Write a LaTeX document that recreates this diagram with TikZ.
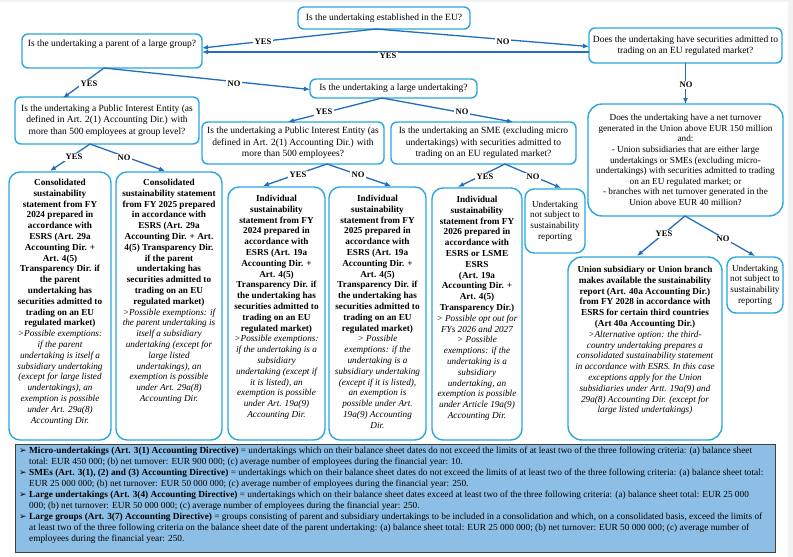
\documentclass[tikz,border=0pt]{standalone}
\usepackage{fontspec}
\setmainfont{Liberation Serif}
\newfontfamily\symfont{DejaVu Sans}
\usetikzlibrary{arrows.meta}
\definecolor{boxc}{RGB}{41,168,224}
\definecolor{arrc}{RGB}{33,110,188}
\definecolor{legf}{RGB}{141,191,230}
\definecolor{legd}{RGB}{64,64,64}
\newcommand\legbul{\makebox[10pt][l]{\symfont\fontsize{9}{10}\selectfont ➢}}
\newcommand\legind{\hspace*{10pt}}
\begin{document}
\begin{tikzpicture}[x=1pt,y=-1pt,
 qbox/.style={draw=boxc, line width=1.4pt, rounded corners=6pt, fill=white, inner sep=0pt, outer sep=0pt},
 rbox/.style={draw=boxc, line width=1.4pt, rounded corners=11pt, fill=white, inner sep=0pt, outer sep=0pt},
 arr/.style={draw=arrc, line width=1.3pt, -{Latex[length=6pt,width=5pt]}},
 ln/.style={draw=arrc, line width=1.3pt},
 lbl/.style={font=\fontsize{8.5}{10}\selectfont\bfseries, fill=white, inner sep=1.5pt},
 qtxt/.style={font=\fontsize{9.5}{11.3}\selectfont, align=center, inner sep=0pt},
 rtxt/.style={font=\fontsize{9.2}{10.8}\selectfont, align=center, inner sep=0pt},
 ntxt/.style={font=\fontsize{9.2}{10.6}\selectfont, align=center, inner sep=0pt},
]
\useasboundingbox (0,0) rectangle (793,557);
\fill[black!5] (0,0) rectangle (793,557);
\fill[white] (0,2) rectangle (788,557);

% ---------- question boxes ----------
\node[qbox, minimum width=172pt, minimum height=22pt] (eu) at (384,18) {};
\node[qtxt] (eut) at (eu.center) {Is the undertaking established in the EU?};

\node[qbox, minimum width=180pt, minimum height=34pt] (parent) at (112,51) {};
\node[qtxt, anchor=north] (parentt) at (112,40) {Is the undertaking a parent of a large group?};

\node[qbox, minimum width=193pt, minimum height=35pt] (sec) at (685.5,45.5) {};
\node[qtxt] (sect) at (sec.center) {Does the undertaking have securities admitted to\\trading on an EU regulated market?};

\node[qbox, minimum width=167pt, minimum height=19pt] (large) at (393.5,88.5) {};
\node[qtxt] (larget) at (large.center) {Is the undertaking a large undertaking?};

\node[qbox, minimum width=184pt, minimum height=47pt] (pieg) at (107,120.5) {};
\node[qtxt] (piegt) at (pieg.center) {Is the undertaking a Public Interest Entity (as\\defined in Art. 2(1) Accounting Dir.) with\\more than 500 employees at group level?};

\node[qbox, minimum width=182pt, minimum height=42pt] (piei) at (293,143) {};
\node[qtxt] (pieit) at (piei.center) {Is the undertaking a Public Interest Entity (as\\defined in Art. 2(1) Accounting Dir.) with\\more than 500 employees?};

\node[qbox, minimum width=185pt, minimum height=42pt] (sme) at (483.5,143) {};
\node[qtxt] (smet) at (sme.center) {Is the undertaking an SME (excluding micro\\undertakings) with securities admitted to\\trading on an EU regulated market?};

\node[rbox, rounded corners=14pt, minimum width=195pt, minimum height=112pt] (turn) at (685.5,160) {};
\node[ntxt] (turnt) at (turn.center) {Does the undertaking have a net turnover\\generated in the Union above EUR 150 million\\and:\\- Union subsidiaries that are either large\\undertakings or SMEs (excluding micro-\\undertakings) with securities admitted to trading\\on an EU regulated market; or\\- branches with net turnover generated in the\\Union above EUR 40 million?};

% ---------- result boxes ----------
\node[rbox, minimum width=102pt, minimum height=268pt] (r1) at (60,306) {};
\node[rtxt, anchor=north] (r1t) at (60,179) {\bfseries Consolidated\\\bfseries sustainability\\\bfseries statement from FY\\\bfseries 2024 prepared in\\\bfseries accordance with\\\bfseries ESRS (Art. 29a\\\bfseries Accounting Dir. +\\\bfseries Art. 4(5)\\\bfseries Transparency Dir. if\\\bfseries the parent\\\bfseries undertaking has\\\bfseries securities admitted to\\\bfseries trading on an EU\\\bfseries regulated market)\\\itshape >Possible exemptions:\\\itshape if the parent\\\itshape undertaking is itself a\\\itshape subsidiary undertaking\\\itshape (except for large listed\\\itshape undertakings), an\\\itshape exemption is possible\\\itshape under Art. 29a(8)\\\itshape Accounting Dir.};

\node[rbox, minimum width=106pt, minimum height=268pt] (r2) at (169,306) {};
\node[rtxt, anchor=north] (r2t) at (169,179) {\bfseries Consolidated\\\bfseries sustainability statement\\\bfseries from FY 2025 prepared\\\bfseries in accordance with\\\bfseries ESRS (Art. 29a\\\bfseries Accounting Dir. + Art.\\\bfseries 4(5) Transparency Dir.\\\bfseries if the parent\\\bfseries undertaking has\\\bfseries securities admitted to\\\bfseries trading on an EU\\\bfseries regulated market)\\\itshape >Possible exemptions: if\\\itshape the parent undertaking is\\\itshape itself a subsidiary\\\itshape undertaking (except for\\\itshape large listed\\\itshape undertakings), an\\\itshape exemption is possible\\\itshape under Art. 29a(8)\\\itshape Accounting Dir.};

\node[rbox, minimum width=97pt, minimum height=253pt] (r3) at (276.5,313.5) {};
\node[rtxt, anchor=north] (r3t) at (276.5,195) {\bfseries Individual\\\bfseries sustainability\\\bfseries statement from FY\\\bfseries 2024 prepared in\\\bfseries accordance with\\\bfseries ESRS (Art. 19a\\\bfseries Accounting Dir. +\\\bfseries Art. 4(5)\\\bfseries Transparency Dir. if\\\bfseries the undertaking has\\\bfseries securities admitted to\\\bfseries trading on an EU\\\bfseries regulated market)\\\itshape >Possible exemptions:\\\itshape if the undertaking is a\\\itshape subsidiary\\\itshape undertaking (except if\\\itshape it is listed), an\\\itshape exemption is possible\\\itshape under Art. 19a(9)\\\itshape Accounting Dir.};

\node[rbox, minimum width=97pt, minimum height=253pt] (r4) at (377.5,313.5) {};
\node[rtxt, anchor=north] (r4t) at (377.5,195) {\bfseries Individual\\\bfseries sustainability\\\bfseries statement from FY\\\bfseries 2025 prepared in\\\bfseries accordance with\\\bfseries ESRS (Art. 19a\\\bfseries Accounting Dir. +\\\bfseries Art. 4(5)\\\bfseries Transparency Dir. if\\\bfseries the undertaking has\\\bfseries securities admitted to\\\bfseries trading on an EU\\\bfseries regulated market)\\\itshape > Possible\\\itshape exemptions: if the\\\itshape undertaking is a\\\itshape subsidiary undertaking\\\itshape (except if it is listed),\\\itshape an exemption is\\\itshape possible under Art.\\\itshape 19a(9) Accounting\\\itshape Dir.};

\node[rbox, minimum width=90pt, minimum height=252pt] (r5) at (477,314) {};
\node[rtxt, anchor=north] (r5t) at (477,196) {\bfseries Individual\\\bfseries sustainability\\\bfseries statement from FY\\\bfseries 2026 prepared in\\\bfseries accordance with\\\bfseries ESRS or LSME\\\bfseries ESRS\\\bfseries (Art. 19a\\\bfseries Accounting Dir. +\\\bfseries Art. 4(5)\\\bfseries Transparency Dir.)\\\itshape > Possible opt out for\\\itshape FYs 2026 and 2027\\\itshape > Possible\\\itshape exemptions: if the\\\itshape undertaking is a\\\itshape subsidiary\\\itshape undertaking, an\\\itshape exemption is possible\\\itshape under Article 19a(9)\\\itshape Accounting Dir.};

\node[qbox, rounded corners=9pt, minimum width=60pt, minimum height=64pt] (n1) at (555,221) {};
\node[ntxt] (n1t) at (n1.center) {Undertaking\\not subject to\\sustainability\\reporting};

\node[rbox, rounded corners=14pt, minimum width=154pt, minimum height=183pt] (un) at (645,348.5) {};
\node[rtxt, anchor=north] (unt) at (645,266) {\bfseries Union subsidiary or Union branch\\\bfseries makes available the sustainability\\\bfseries report (Art. 40a Accounting Dir.)\\\bfseries from FY 2028 in accordance with\\\bfseries ESRS for certain third countries\\\bfseries (Art 40a Accounting Dir.)\\\itshape >Alternative option: the third-\\\itshape country undertaking prepares a\\\itshape consolidated sustainability statement\\\itshape in accordance with ESRS. In this case\\\itshape exceptions apply for the Union\\\itshape subsidiaries under Artt. 19a(9) and\\\itshape 29a(8) Accounting Dir. (except for\\\itshape large listed undertakings)};

\node[qbox, rounded corners=9pt, minimum width=56pt, minimum height=56pt] (n2) at (755,285) {};
\node[ntxt] (n2t) at (n2.center) {Undertaking\\not subject to\\sustainability\\reporting};

% ---------- connectors ----------
\coordinate (eub) at (376,29);
\draw[arr] (eub) -- ([yshift=3pt]parent.east);
\draw[arr] (eub) -- ([yshift=-1pt]sec.west);
\draw[arr] (sec.west |- 0,52) -- (parent.east |- 0,52);
\coordinate (parb) at (104,68);
\draw[arr] (parb) -- (63,98);
\draw[arr] (parb) -- ([yshift=-1pt]large.west);
\coordinate (larb) at (382,98);
\draw[arr] (larb) -- (288,122);
\draw[arr] (larb) -- (513,122);
\coordinate (piegb) at (90,144);
\draw[arr] (piegb) -- (50,171);
\draw[arr] (piegb) -- (165,171);
\coordinate (pieib) at (327,164);
\draw[arr] (pieib) -- (263,186);
\draw[arr] (pieib) -- (391,186);
\coordinate (smeb) at (505,164);
\draw[arr] (smeb) -- (458,187);
\draw[arr] (smeb) -- (561,188);
\draw[arr] (sec.south) -- (turn.north);
\coordinate (turnb) at (685,216);
\draw[arr] (turnb) -- (637,256);
\draw[arr] (turnb) -- (755,256);

% ---------- labels ----------
\node[lbl] (l1) at (263,42) {YES};
\node[lbl] (l2) at (503,42) {NO};
\node[lbl] (l3) at (388,56) {YES};
\node[lbl] (l4) at (89,84) {YES};
\node[lbl] (l5) at (234,84) {NO};
\node[lbl] (l6) at (324,112) {YES};
\node[lbl] (l7) at (462,112) {NO};
\node[lbl] (l8) at (74,157) {YES};
\node[lbl] (l9) at (124,158) {NO};
\node[lbl] (l10) at (298,175) {YES};
\node[lbl] (l11) at (358,175) {NO};
\node[lbl] (l12) at (485,177) {YES};
\node[lbl] (l13) at (533,177) {NO};
\node[lbl] (l14) at (686,85) {NO};
\node[lbl] (l15) at (664,234) {YES};
\node[lbl] (l16) at (723,239) {NO};

% ---------- legend ----------
\node[draw=legd, fill=legf, line width=1pt, minimum width=760pt, minimum height=108pt, inner sep=0pt] (leg) at (395,498) {};
\node[anchor=north west, align=left, inner sep=0pt, font=\fontsize{9.3}{11}\selectfont] (legt) at (19,447) {%
\legbul\textbf{Micro-undertakings (Art. 3(1) Accounting Directive)} = undertakings which on their balance sheet dates do not exceed the limits of at least two of the three following criteria: (a) balance sheet\\
\legind total: EUR 450 000; (b) net turnover: EUR 900 000; (c) average number of employees during the financial year: 10.\\
\legbul\textbf{SMEs (Art. 3(1), (2) and (3) Accounting Directive)} = undertakings which on their balance sheet dates do not exceed the limits of at least two of the three following criteria: (a) balance sheet total:\\
\legind EUR 25 000 000; (b) net turnover: EUR 50 000 000; (c) average number of employees during the financial year: 250.\\
\legbul\textbf{Large undertakings (Art. 3(4) Accounting Directive)} = undertakings which on their balance sheet dates exceed at least two of the three following criteria: (a) balance sheet total: EUR 25 000\\
\legind 000; (b) net turnover: EUR 50 000 000; (c) average number of employees during the financial year: 250.\\
\legbul\textbf{Large groups (Art. 3(7) Accounting Directive)} = groups consisting of parent and subsidiary undertakings to be included in a consolidation and which, on a consolidated basis, exceed the limits of\\
\legind at least two of the three following criteria on the balance sheet date of the parent undertaking: (a) balance sheet total: EUR 25 000 000; (b) net turnover: EUR 50 000 000; (c) average number of\\
\legind employees during the financial year: 250.};
\end{tikzpicture}
\end{document}
